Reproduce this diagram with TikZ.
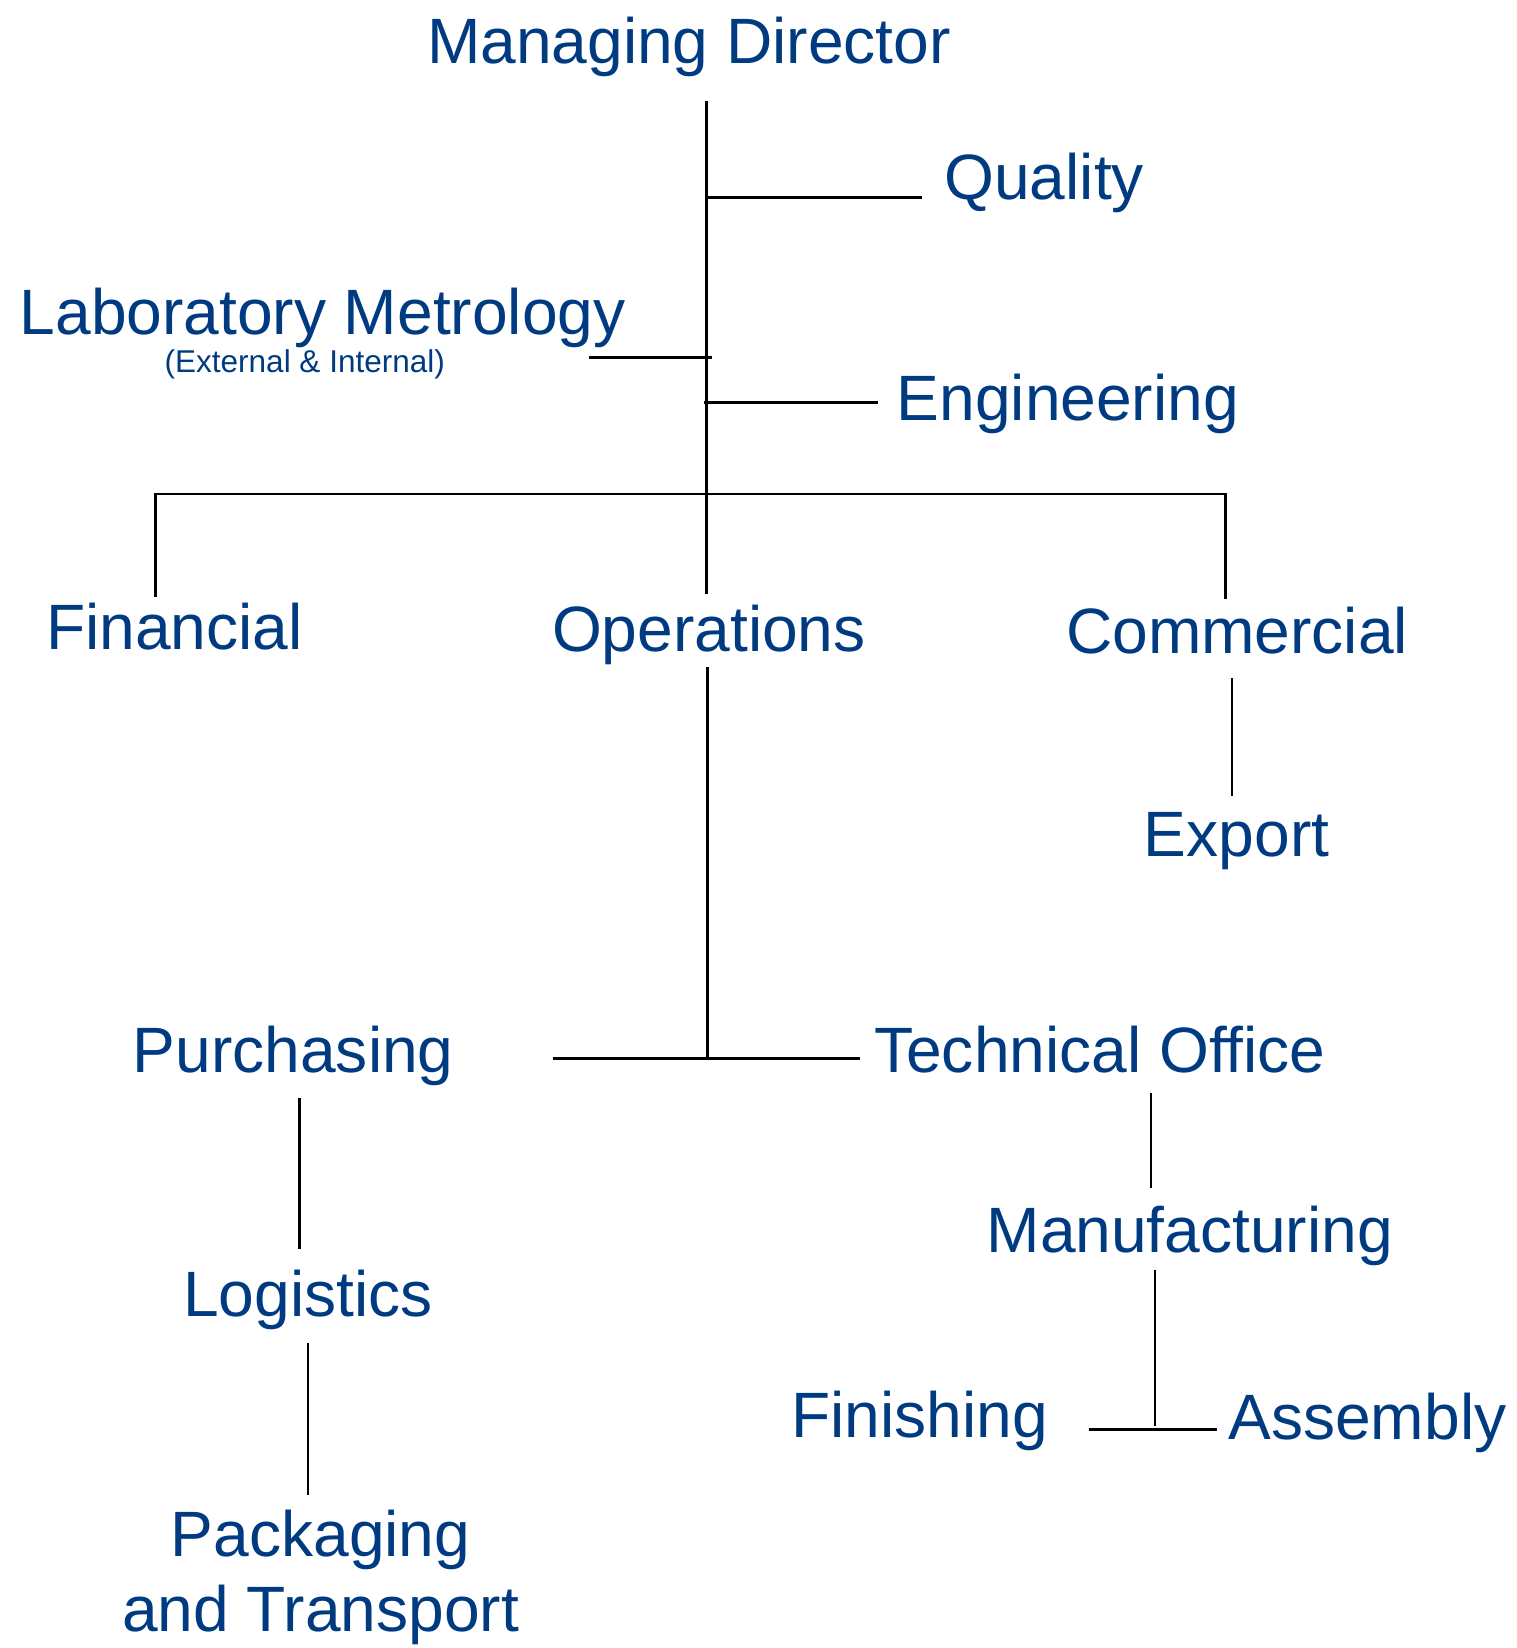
\documentclass[tikz,border=0pt]{standalone}
\usepackage{fontspec}
\setmainfont{Liberation Sans}
\definecolor{orgblue}{HTML}{003A80}
\begin{document}
\begin{tikzpicture}[x=1pt,y=-1pt,
  lbl/.style={text=orgblue, inner sep=0pt, anchor=base, font=\fontsize{61}{71}\selectfont},
  sublbl/.style={text=orgblue, inner sep=0pt, anchor=base, font=\fontsize{30}{36}\selectfont},
  conn/.style={line width=2.4pt, black}]
\useasboundingbox (0,0) rectangle (1443,1568);
% labels
\node[lbl] (md) at (655.5,60) {Managing Director};
\node[lbl] (quality) at (993.5,190) {Quality};
\node[lbl] (lab) at (307,318) {Laboratory Metrology};
\node[sublbl] (labsub) at (290,354) {(External \& Internal)};
\node[lbl] (eng) at (1016,400) {Engineering};
\node[lbl] (fin) at (166,618) {Financial};
\node[lbl] (ops) at (674.5,620) {Operations};
\node[lbl] (com) at (1177,622) {Commercial};
\node[lbl] (exp) at (1176.5,815) {Export};
\node[lbl] (pur) at (279,1020) {Purchasing};
\node[lbl] (tech) at (1046.5,1020) {Technical Office};
\node[lbl] (log) at (293,1253) {Logistics};
\node[lbl, align=center] (pack) at (305,1552) {Packaging\\and Transport};
\node[lbl] (manu) at (1132,1192) {Manufacturing};
\node[lbl] (finish) at (875,1368) {Finishing};
\node[lbl] (asm) at (1301,1370) {Assembly};
% connector points
\coordinate (mdfoot) at (672,96);
\coordinate (jq) at (672,188);
\coordinate (qend) at (877,188);
\coordinate (jl) at (677,340);
\coordinate (lend) at (560,340);
\coordinate (je) at (670,383);
\coordinate (eend) at (835,383);
\coordinate (opstop) at (672,565);
\coordinate (barl) at (148,470);
\coordinate (barr) at (1166,470);
\coordinate (fintop) at (148,568);
\coordinate (comtop) at (1166,570);
\coordinate (combot) at (1172,645);
\coordinate (exptop) at (1172,757);
\coordinate (opsbot) at (673,635);
\coordinate (jo) at (673,1007);
\coordinate (purend) at (526,1007);
\coordinate (techend) at (818,1007);
\coordinate (purbot) at (285,1045);
\coordinate (logtop) at (285,1188);
\coordinate (logbot) at (293,1278);
\coordinate (packtop) at (293,1422);
\coordinate (techbot) at (1095,1040);
\coordinate (manutop) at (1095,1130);
\coordinate (manubot) at (1099,1208);
\coordinate (jm) at (1099,1357);
\coordinate (finend) at (1036,1360);
\coordinate (asmend) at (1158,1360);
% connectors
\draw[conn] (mdfoot) -- (opstop);
\draw[conn] (jq) -- (qend);
\draw[conn] (lend) -- (jl);
\draw[conn] (je) -- (eend);
\draw[conn] (fintop) -- (barl) -- (barr) -- (comtop);
\draw[conn] (combot) -- (exptop);
\draw[conn] (opsbot) -- (jo);
\draw[conn] (purend) -- (techend);
\draw[conn] (purbot) -- (logtop);
\draw[conn] (logbot) -- (packtop);
\draw[conn] (techbot) -- (manutop);
\draw[conn] (manubot) -- (jm);
\draw[conn] (finend) -- (asmend);
\end{tikzpicture}
\end{document}
